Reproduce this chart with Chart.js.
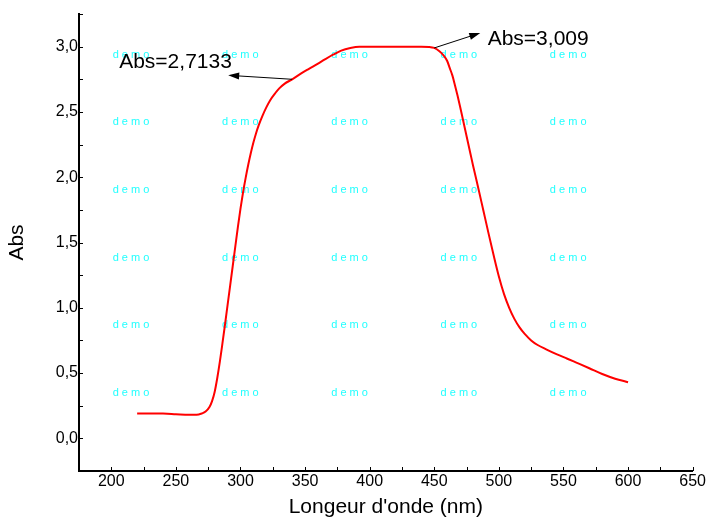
<!DOCTYPE html>
<html>
<head>
<meta charset="utf-8">
<script src="https://cdn.jsdelivr.net/npm/chart.js@4"></script>
<style>
    body { margin: 0; background: #fff; }
    #wrap { width: 707px; height: 518px; }
</style>
</head>
<body>
<div id="wrap"><canvas id="chart"></canvas></div>
<script>
// ============================================
// Spectre d'absorption - Abs vs longueur d'onde
// ============================================

const wavelength = [
    220, 230, 240, 250, 260, 266, 270, 273, 276, 278,
    280, 282, 284, 286, 288, 290, 292, 294, 296, 298,
    300, 302, 304, 306, 308, 310, 312, 314, 317, 320,
    323, 327, 330, 334, 340, 347, 353, 360, 365, 372,
    378, 385, 392, 400, 420, 440, 446, 450, 454, 457,
    460, 462, 464, 466, 468, 470, 472, 474, 476, 478,
    480, 484, 488, 492, 496, 500, 504, 508, 512, 516,
    520, 525, 530, 537, 545, 553, 560, 570, 580, 590,
    600
];
const absorbance = [
    0.19, 0.19, 0.19, 0.185, 0.18, 0.18, 0.19, 0.205, 0.24, 0.285,
    0.355, 0.46, 0.585, 0.725, 0.87, 1.02, 1.17, 1.32, 1.47, 1.62,
    1.76, 1.885, 1.995, 2.095, 2.185, 2.265, 2.335, 2.395, 2.47, 2.535,
    2.59, 2.645, 2.68, 2.715, 2.75, 2.795, 2.83, 2.87, 2.90, 2.94,
    2.97, 2.99, 3.00, 3.00, 3.00, 3.00, 2.998, 2.99, 2.965, 2.935,
    2.89, 2.835, 2.78, 2.705, 2.625, 2.54, 2.45, 2.36, 2.27, 2.18,
    2.09, 1.92, 1.745, 1.57, 1.40, 1.24, 1.105, 1.00, 0.915, 0.85,
    0.80, 0.75, 0.715, 0.68, 0.643, 0.61, 0.58, 0.537, 0.493, 0.457,
    0.43
];

const xTickLabels = [200, 250, 300, 350, 400, 450, 500, 550, 600, 650];
const yTickLabels = [0, 0.5, 1, 1.5, 2, 2.5, 3];

// annotations (texte + point visé sur la courbe)
const noteText = ['Abs=2,7133', 'Abs=3,009'];
const noteX = [340, 450];
const noteY = [2.75, 2.99];

const FONT = "'Liberation Sans', Arial, sans-serif";

const isIn = (list, v) => list.some(t => Math.abs(t - v) < 1e-6);

const watermarkPlugin = {
    id: 'watermark',
    beforeDatasetsDraw(chart) {
        const ctx = chart.ctx;
        ctx.save();
        ctx.fillStyle = '#22ffff';
        ctx.font = `11px ${FONT}`;
        ctx.textAlign = 'center';
        ctx.textBaseline = 'middle';
        for (let i = 0; i < 5; i++) {
            for (let j = 0; j < 6; j++) {
                ctx.fillText('d e m o', 131 + 109.3 * i, 54.5 + 67.7 * j);
            }
        }
        ctx.restore();
    }
};

function arrow(ctx, x1, y1, x2, y2) {
    const ang = Math.atan2(y2 - y1, x2 - x1);
    const len = 11, half = 3.5;
    ctx.beginPath();
    ctx.moveTo(x1, y1);
    ctx.lineTo(x2 - Math.cos(ang) * len * 0.8, y2 - Math.sin(ang) * len * 0.8);
    ctx.stroke();
    ctx.beginPath();
    ctx.moveTo(x2, y2);
    ctx.lineTo(x2 - Math.cos(ang) * len - Math.sin(ang) * half, y2 - Math.sin(ang) * len + Math.cos(ang) * half);
    ctx.lineTo(x2 - Math.cos(ang) * len + Math.sin(ang) * half, y2 - Math.sin(ang) * len - Math.cos(ang) * half);
    ctx.closePath();
    ctx.fill();
}

const notesPlugin = {
    id: 'notes',
    afterDatasetsDraw(chart) {
        const { ctx, scales: { x, y } } = chart;
        // decalages fleche / texte par annotation
        const layout = [
            { dx: -64, dy: -4, tx: -109, ty: -7.7 },
            { dx: 46, dy: -15, tx: 7.4, ty: 11.7 }
        ];
        ctx.save();
        ctx.strokeStyle = '#000';
        ctx.fillStyle = '#000';
        ctx.lineWidth = 1;
        ctx.font = `21px ${FONT}`;
        ctx.textBaseline = 'alphabetic';
        ctx.textAlign = 'left';
        noteText.forEach((txt, i) => {
            const px = x.getPixelForValue(noteX[i]);
            const py = y.getPixelForValue(noteY[i]);
            const l = layout[i];
            const hx = px + l.dx, hy = py + l.dy;
            arrow(ctx, px, py, hx, hy);
            ctx.fillText(txt, hx + l.tx, hy + l.ty);
        });
        ctx.restore();
    }
};

const innerTicksPlugin = {
    id: 'innerTicks',
    afterDraw(chart) {
        const { ctx, chartArea, scales: { x, y } } = chart;
        ctx.save();
        ctx.strokeStyle = '#000';
        ctx.lineWidth = 1;
        ctx.beginPath();
        x.ticks.forEach(t => {
            const px = Math.round(x.getPixelForValue(t.value)) + 0.5;
            ctx.moveTo(px, chartArea.bottom);
            ctx.lineTo(px, chartArea.bottom - 4);
        });
        y.ticks.forEach(t => {
            const py = Math.round(y.getPixelForValue(t.value)) + 0.5;
            ctx.moveTo(chartArea.left, py);
            ctx.lineTo(chartArea.left + 4, py);
        });
        ctx.stroke();
        ctx.restore();
    }
};

new Chart(document.getElementById('chart'), {
    type: 'scatter',
    data: {
        datasets: [{
            data: wavelength.map((w, i) => ({ x: w, y: absorbance[i] })),
            showLine: true,
            borderColor: '#ff0000',
            borderWidth: 2,
            pointRadius: 0,
            cubicInterpolationMode: 'monotone',
            fill: false
        }]
    },
    options: {
        responsive: true,
        maintainAspectRatio: false,
        animation: false,
        layout: { padding: { left: 0, right: 14, top: 14, bottom: 0 } },
        plugins: {
            legend: { display: false },
            tooltip: { enabled: false }
        },
        scales: {
            x: {
                type: 'linear',
                min: 175,
                max: 650,
                grid: { display: false, drawTicks: false, tickLength: 0 },
                border: { display: true, color: '#000', width: 2 },
                ticks: {
                    stepSize: 25,
                    autoSkip: false,
                    maxRotation: 0,
                    padding: 1,
                    color: '#000',
                    font: { family: FONT, size: 16 },
                    callback: v => isIn(xTickLabels, v) ? String(Math.round(v)) : ''
                },
                title: {
                    display: true,
                    text: "Longeur d'onde (nm)",
                    color: '#000',
                    font: { family: FONT, size: 21, lineHeight: 1 },
                    padding: { top: 0, bottom: 0 }
                },
                afterFit(scale) { scale.height = 47; }
            },
            y: {
                min: -0.25,
                max: 3.25,
                grid: { display: false, drawTicks: false, tickLength: 0 },
                border: { display: true, color: '#000', width: 2 },
                ticks: {
                    stepSize: 0.25,
                    autoSkip: false,
                    padding: 1,
                    color: '#000',
                    font: { family: FONT, size: 16 },
                    callback: v => isIn(yTickLabels, v) ? v.toFixed(1).replace('.', ',') : ''
                },
                title: {
                    display: true,
                    text: 'Abs',
                    color: '#000',
                    font: { family: FONT, size: 21, lineHeight: 1 },
                    padding: { top: 7, bottom: 0 }
                },
                afterFit(scale) { scale.width = 79; }
            }
        }
    },
    plugins: [watermarkPlugin, notesPlugin, innerTicksPlugin]
});
</script>
</body>
</html>
